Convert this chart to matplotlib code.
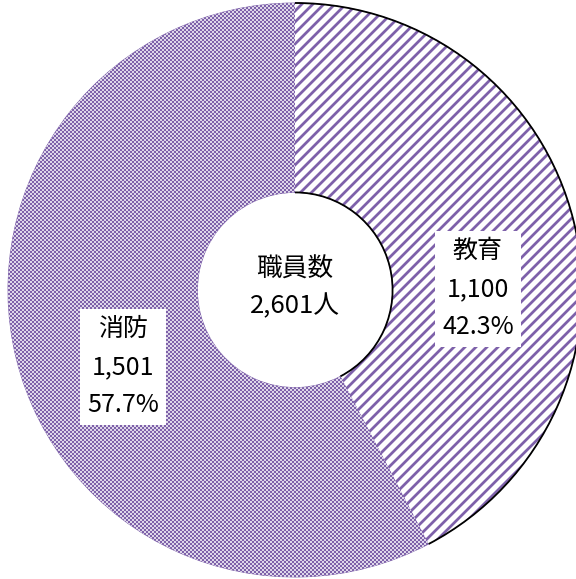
import numpy as np
import matplotlib.pyplot as plt
from matplotlib.patches import Arc

plt.rcParams['font.family'] = ['Noto Sans CJK JP', 'DejaVu Sans']

# data
categories = ['教育', '消防']
staff = [1100, 1501]
shares = ['42.3%', '57.7%']
total_label = '職員数\n2,601人'

purple = '#7E62AA'

fig = plt.figure(figsize=(5.76, 5.79), dpi=100)
ax = fig.add_axes([0, 0, 1, 1])

cx, cy, R = 295, 289, 287
hole = R * 0.34
wedges, _ = ax.pie(staff, center=(cx, cy), radius=R, startangle=90, counterclock=False,
                   wedgeprops=dict(width=R - hole, facecolor='none',
                                   edgecolor=purple, linewidth=0.6))
ax.set_xlim(0, 576)
ax.set_ylim(0, 579)
ax.set_aspect('equal')
ax.axis('off')

# fill patterns (pixel grid, 1 data unit = 1 px)
yy, xx = np.mgrid[0:579, 0:576]
phase = (xx - yy) % 11
stripes = np.where((phase >= 1) & (phase <= 3), 1.0, np.where((phase == 0) | (phase == 4), 0.45, 0.0))
checker = np.where(((xx // 2 + yy // 2) % 2) == 0, 1.0, 0.25)
rgb = np.array([int(purple[i:i + 2], 16) / 255 for i in (1, 3, 5)])

def pattern_img(w):
    return 1 - w[..., None] * (1 - rgb)

for w, mask in zip(wedges, [stripes, checker]):
    im = ax.imshow(pattern_img(mask), extent=(0, 576, 0, 579), origin='lower',
                   interpolation='nearest', zorder=1)
    im.set_clip_path(w)

# black outline on the arcs of the first wedge
t1 = 90 - 360 * staff[0] / sum(staff)
for r in (R, hole):
    ax.add_patch(Arc((cx, cy), 2 * r, 2 * r, theta1=t1, theta2=90,
                     color='black', linewidth=1.3, zorder=3))

# labels
label_pos = [(478, 290), (123, 212)]
for (x, y), c, n, s in zip(label_pos, categories, staff, shares):
    ax.text(x, y, f'{c}\n{n:,}\n{s}', ha='center', va='center', fontsize=18,
            linespacing=1.62, zorder=5,
            bbox=dict(facecolor='white', edgecolor='none', pad=5))

ax.text(cx, cy + 2, total_label, ha='center', va='center', fontsize=18.5,
        linespacing=1.55, zorder=5)

plt.savefig('out.png', dpi=100)
